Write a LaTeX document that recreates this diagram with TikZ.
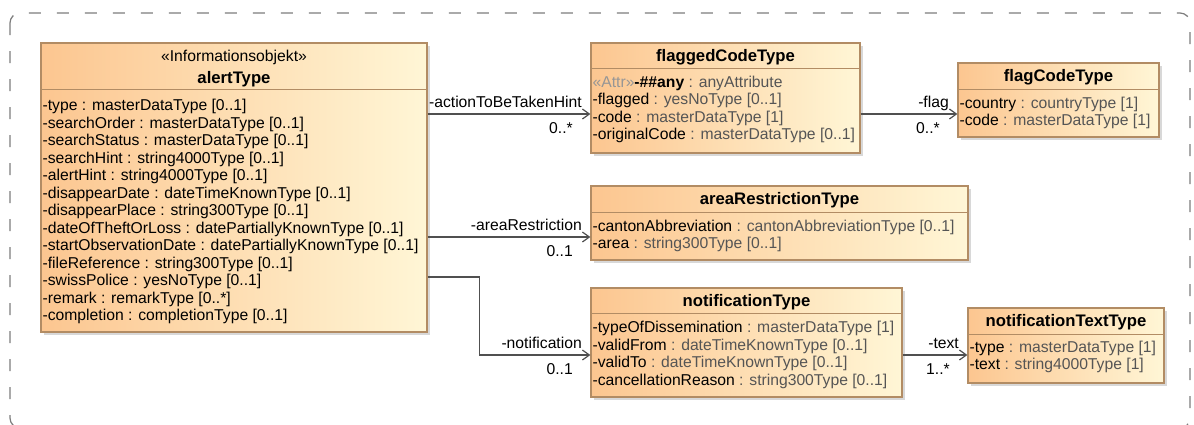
\documentclass[tikz,border=0pt]{standalone}
\usepackage{fontspec}
\setmainfont{Liberation Sans}
\usetikzlibrary{arrows.meta, shadows}

\definecolor{classOrange}{RGB}{252,198,144}
\definecolor{classPale}{RGB}{255,246,214}
\definecolor{classBorder}{RGB}{178,140,100}
\definecolor{typeGray}{RGB}{85,85,85}
\definecolor{stereoGray}{RGB}{150,150,150}
\definecolor{lineGray}{RGB}{80,80,80}
\definecolor{frameGray}{RGB}{125,125,125}

\newcommand{\umlattr}[2]{#1 \textcolor{typeGray}{: #2}}
\newcommand{\attrfont}{\fontsize{15.7}{17.5}\selectfont}
\newcommand{\namefont}{\fontsize{16.7}{20}\selectfont\bfseries}

\begin{document}
\begin{tikzpicture}[x=1pt, y=-1pt, >={Straight Barb[length=7pt, width=10pt]},
    classbox/.style={draw=classBorder, line width=1.2pt, left color=classOrange,
        right color=classPale, inner sep=0pt,
        drop shadow={shadow xshift=3pt, shadow yshift=-3pt, fill=black!30}},
    sepline/.style={draw=classBorder, line width=1.2pt},
    classname/.style={anchor=base, inner sep=0pt, font=\namefont},
    attrs/.style={anchor=north west, inner sep=0pt, align=left, font=\attrfont},
    assoc/.style={->, draw=lineGray, line width=1.2pt},
    role/.style={anchor=base east, inner sep=0pt, font=\attrfont, xshift=-8pt, yshift=7pt},
    mult/.style={anchor=base east, inner sep=0pt, font=\attrfont, xshift=-17pt, yshift=-19pt}]
    \useasboundingbox (0,0) rectangle (1194,424);
    \clip (0,0) rectangle (1194,424);
    \draw[draw=frameGray, line width=1.2pt, rounded corners=10pt, dash pattern=on 12pt off 16pt]
        (10,13) rectangle (1190,428);

    % classes
    \node[classbox, minimum width=386pt, minimum height=289pt] (alert) at (234,187.5) {};
    \node[classbox, minimum width=269pt, minimum height=110pt] (flagged) at (725.5,98) {};
    \node[classbox, minimum width=201pt, minimum height=74pt] (flag) at (1058.5,100) {};
    \node[classbox, minimum width=377pt, minimum height=74pt] (area) at (779.5,223) {};
    \node[classbox, minimum width=311pt, minimum height=109pt] (notif) at (746.5,342.5) {};
    \node[classbox, minimum width=196pt, minimum height=75pt] (notifText) at (1066,345.5) {};

    \draw[sepline] ([yshift=-47pt]alert.north west) -- ([yshift=-47pt]alert.north east);
    \draw[sepline] ([yshift=-26pt]flagged.north west) -- ([yshift=-26pt]flagged.north east);
    \draw[sepline] ([yshift=-27pt]flag.north west) -- ([yshift=-27pt]flag.north east);
    \draw[sepline] ([yshift=-27pt]area.north west) -- ([yshift=-27pt]area.north east);
    \draw[sepline] ([yshift=-26pt]notif.north west) -- ([yshift=-26pt]notif.north east);
    \draw[sepline] ([yshift=-27pt]notifText.north west) -- ([yshift=-27pt]notifText.north east);

    \node[classname, font=\attrfont] (alertStereo) at ([yshift=-19.5pt]alert.north) {«Informationsobjekt»};
    \node[classname] (alertName) at ([yshift=-41.5pt]alert.north) {alertType};
    \node[classname] (flaggedName) at ([yshift=-19pt]flagged.north) {flaggedCodeType};
    \node[classname] (flagName) at ([yshift=-19.5pt]flag.north) {flagCodeType};
    \node[classname] (areaName) at ([yshift=-19.5pt]area.north) {areaRestrictionType};
    \node[classname] (notifName) at ([yshift=-19pt]notif.north) {notificationType};
    \node[classname] (notifTextName) at ([yshift=-19pt]notifText.north) {notificationTextType};

    \node[attrs] (alertAttrs) at ([xshift=2pt, yshift=-56pt]alert.north west)
        {\strut-type : masterDataType [0..1]\\
         -searchOrder : masterDataType [0..1]\\
         -searchStatus : masterDataType [0..1]\\
         -searchHint : string4000Type [0..1]\\
         -alertHint : string4000Type [0..1]\\
         -disappearDate : dateTimeKnownType [0..1]\\
         -disappearPlace : string300Type [0..1]\\
         -dateOfTheftOrLoss : datePartiallyKnownType [0..1]\\
         -startObservationDate : datePartiallyKnownType [0..1]\\
         -fileReference : string300Type [0..1]\\
         -swissPolice : yesNoType [0..1]\\
         -remark : remarkType [0..*]\\
         -completion : completionType [0..1]};
    \node[attrs] (flaggedAttrs) at ([xshift=2pt, yshift=-32.5pt]flagged.north west)
        {\strut\textcolor{stereoGray}{«Attr»}\textbf{-\#\#any} \textcolor{typeGray}{: anyAttribute}\\
         \umlattr{-flagged}{yesNoType [0..1]}\\
         \umlattr{-code}{masterDataType [1]}\\
         \umlattr{-originalCode}{masterDataType [0..1]}};
    \node[attrs] (flagAttrs) at ([xshift=2pt, yshift=-33.5pt]flag.north west)
        {\strut\umlattr{-country}{countryType [1]}\\
         \umlattr{-code}{masterDataType [1]}};
    \node[attrs] (areaAttrs) at ([xshift=2pt, yshift=-33.5pt]area.north west)
        {\strut\umlattr{-cantonAbbreviation}{cantonAbbreviationType [0..1]}\\
         \umlattr{-area}{string300Type [0..1]}};
    \node[attrs] (notifAttrs) at ([xshift=2pt, yshift=-33pt]notif.north west)
        {\strut\umlattr{-typeOfDissemination}{masterDataType [1]}\\
         \umlattr{-validFrom}{dateTimeKnownType [0..1]}\\
         \umlattr{-validTo}{dateTimeKnownType [0..1]}\\
         \umlattr{-cancellationReason}{string300Type [0..1]}};
    \node[attrs] (notifTextAttrs) at ([xshift=2pt, yshift=-32.5pt]notifText.north west)
        {\strut\umlattr{-type}{masterDataType [1]}\\
         \umlattr{-text}{string4000Type [1]}};

    % associations
    \coordinate (hintEnd) at ([yshift=-16pt]flagged.west);
    \coordinate (flagEnd) at ([yshift=-14pt]flag.west);
    \coordinate (areaEnd) at ([yshift=-14pt]area.west);
    \coordinate (notifStart) at ([yshift=-89.5pt]alert.east);
    \coordinate (notifEnd) at ([yshift=-12.5pt]notif.west);
    \coordinate (textEnd) at ([yshift=-9.5pt]notifText.west);

    \draw[assoc] (alert.east |- hintEnd) -- (hintEnd) node[role] {-actionToBeTakenHint} node[mult] {0..*};
    \draw[assoc] (flagged.east |- flagEnd) -- (flagEnd) node[role] {-flag} node[mult] {0..*};
    \draw[assoc] (alert.east |- areaEnd) -- (areaEnd) node[role] {-areaRestriction} node[mult] {0..1};
    \draw[assoc] (notifStart) -- ++(52,0) |- (notifEnd) node[role] {-notification} node[mult] {0..1};
    \draw[assoc] (notif.east |- textEnd) -- (textEnd) node[role] {-text} node[mult] {1..*};
\end{tikzpicture}
\end{document}
